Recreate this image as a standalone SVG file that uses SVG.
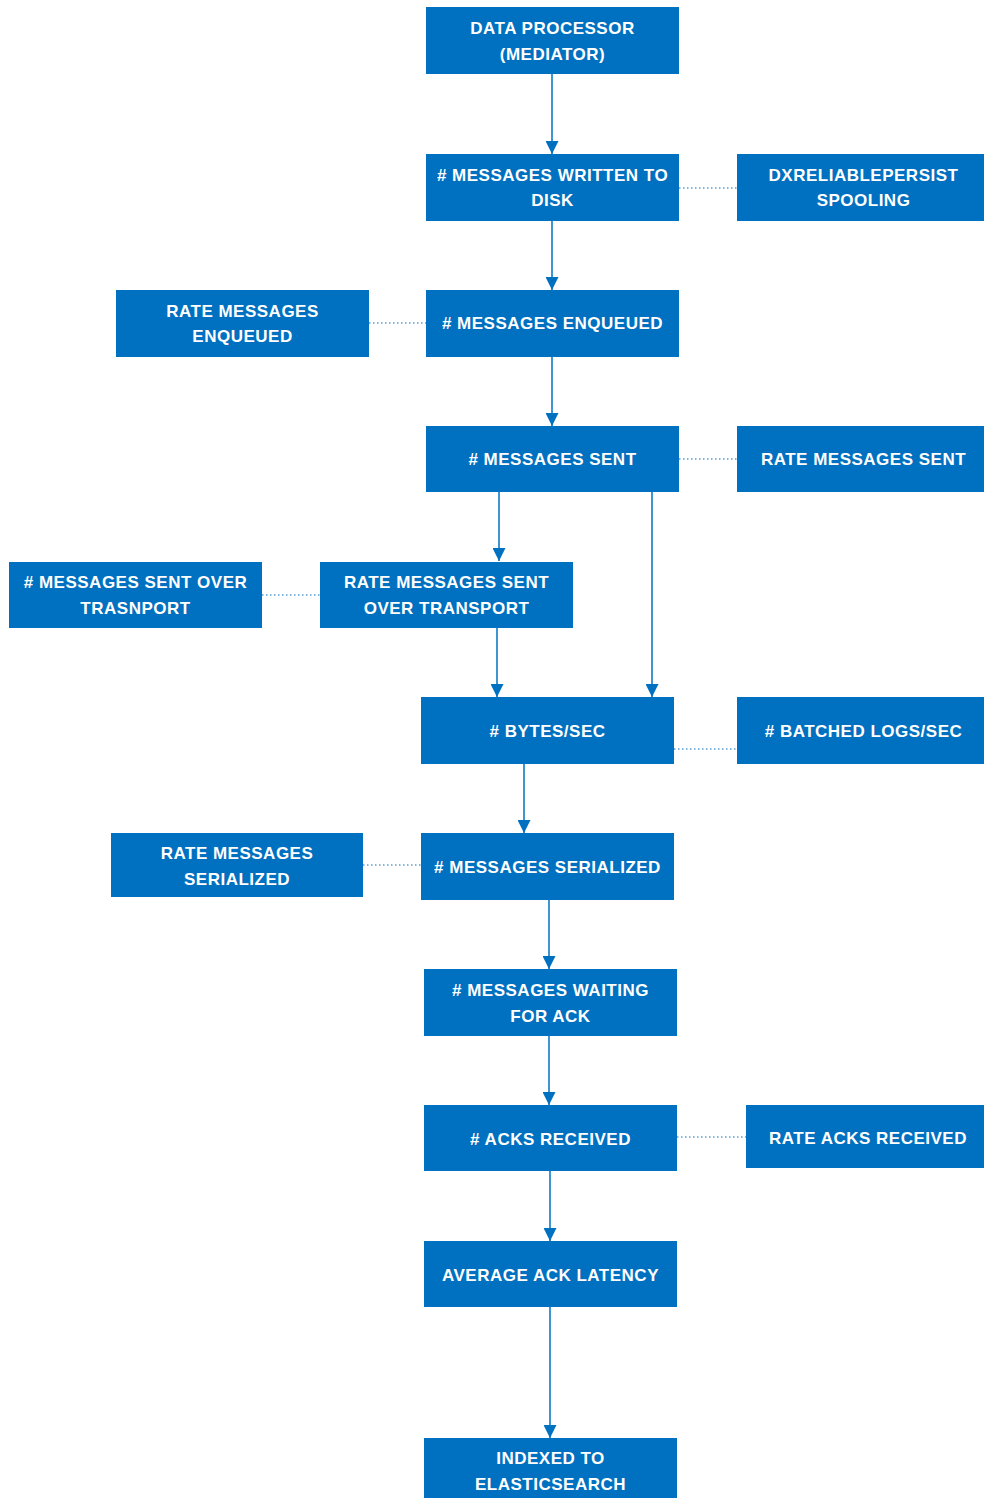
<svg xmlns="http://www.w3.org/2000/svg" width="984" height="1498" viewBox="0 0 984 1498">
<style>
.n rect{fill:#0070C0}
.n text{fill:#fff;font-family:"Liberation Sans",Arial,sans-serif;font-weight:bold;font-size:17px;letter-spacing:0.5px;text-anchor:middle;dominant-baseline:central}
.c line{stroke:#0070C0;stroke-width:1.5;fill:none}
.c line.d{stroke-width:1.2;stroke-dasharray:1.5 2.5}
</style>
<defs>
<marker id="ar" viewBox="0 0 13 13" refX="13" refY="6.5" markerWidth="13" markerHeight="13" markerUnits="userSpaceOnUse" orient="auto">
<path d="M0,0 L13,6.5 L0,13 Z" fill="#0070C0"/>
</marker>
</defs>
<rect width="984" height="1498" fill="#fff"/>
<g class="c">
<line x1="552" y1="74" x2="552" y2="154" marker-end="url(#ar)"/>
<line x1="552" y1="221" x2="552" y2="290" marker-end="url(#ar)"/>
<line x1="552" y1="357" x2="552" y2="426" marker-end="url(#ar)"/>
<line x1="499" y1="492" x2="499" y2="561" marker-end="url(#ar)"/>
<line x1="652" y1="492" x2="652" y2="697" marker-end="url(#ar)"/>
<line x1="497" y1="628" x2="497" y2="697" marker-end="url(#ar)"/>
<line x1="524" y1="764" x2="524" y2="833" marker-end="url(#ar)"/>
<line x1="549" y1="900" x2="549" y2="969" marker-end="url(#ar)"/>
<line x1="549" y1="1036" x2="549" y2="1105" marker-end="url(#ar)"/>
<line x1="550" y1="1171" x2="550" y2="1241" marker-end="url(#ar)"/>
<line x1="550" y1="1307" x2="550" y2="1438" marker-end="url(#ar)"/>
<line class="d" x1="679" y1="188" x2="737" y2="188"/>
<line class="d" x1="369" y1="323" x2="426" y2="323"/>
<line class="d" x1="679" y1="459" x2="737" y2="459"/>
<line class="d" x1="262" y1="595" x2="320" y2="595"/>
<line class="d" x1="674" y1="749" x2="737" y2="749"/>
<line class="d" x1="363" y1="865" x2="421" y2="865"/>
<line class="d" x1="677" y1="1137" x2="746" y2="1137"/>
</g>
<g id="dataProcessor" class="n"><rect x="426" y="7" width="253" height="67"/><text x="552.5" y="28">DATA PROCESSOR</text><text x="552.5" y="54">(MEDIATOR)</text></g>
<g id="writtenToDisk" class="n"><rect x="426" y="154" width="253" height="67"/><text x="552.5" y="175">#  MESSAGES WRITTEN TO</text><text x="552.5" y="200">DISK</text></g>
<g id="dxSpooling" class="n"><rect x="737" y="154" width="247" height="67"/><text x="863.5" y="175">DXRELIABLEPERSIST</text><text x="863.5" y="200">SPOOLING</text></g>
<g id="rateEnqueued" class="n"><rect x="116" y="290" width="253" height="67"/><text x="242.5" y="311">RATE MESSAGES</text><text x="242.5" y="336">ENQUEUED</text></g>
<g id="enqueued" class="n"><rect x="426" y="290" width="253" height="67"/><text x="552.5" y="323">#  MESSAGES ENQUEUED</text></g>
<g id="sent" class="n"><rect x="426" y="426" width="253" height="66"/><text x="552.5" y="459">#  MESSAGES SENT</text></g>
<g id="rateSent" class="n"><rect x="737" y="426" width="247" height="66"/><text x="863.5" y="459">RATE MESSAGES SENT</text></g>
<g id="sentOverTransport" class="n"><rect x="9" y="562" width="253" height="66"/><text x="135.5" y="582">#  MESSAGES SENT OVER</text><text x="135.5" y="608">TRASNPORT</text></g>
<g id="rateSentOverTransport" class="n"><rect x="320" y="562" width="253" height="66"/><text x="446.5" y="582">RATE MESSAGES SENT</text><text x="446.5" y="608">OVER TRANSPORT</text></g>
<g id="bytesSec" class="n"><rect x="421" y="697" width="253" height="67"/><text x="547.5" y="731">#  BYTES/SEC</text></g>
<g id="batchedLogs" class="n"><rect x="737" y="697" width="247" height="67"/><text x="863.5" y="731">#  BATCHED LOGS/SEC</text></g>
<g id="rateSerialized" class="n"><rect x="111" y="833" width="252" height="64"/><text x="237" y="853">RATE MESSAGES</text><text x="237" y="879">SERIALIZED</text></g>
<g id="serialized" class="n"><rect x="421" y="833" width="253" height="67"/><text x="547.5" y="867">#  MESSAGES SERIALIZED</text></g>
<g id="waitingAck" class="n"><rect x="424" y="969" width="253" height="67"/><text x="550.5" y="990">#  MESSAGES WAITING</text><text x="550.5" y="1016">FOR ACK</text></g>
<g id="acksReceived" class="n"><rect x="424" y="1105" width="253" height="66"/><text x="550.5" y="1139">#  ACKS RECEIVED</text></g>
<g id="rateAcks" class="n"><rect x="746" y="1105" width="238" height="63"/><text x="868" y="1138">RATE ACKS RECEIVED</text></g>
<g id="avgLatency" class="n"><rect x="424" y="1241" width="253" height="66"/><text x="550.5" y="1275">AVERAGE ACK LATENCY</text></g>
<g id="indexed" class="n"><rect x="424" y="1438" width="253" height="60"/><text x="550.5" y="1458">INDEXED TO</text><text x="550.5" y="1484">ELASTICSEARCH</text></g>
</svg>
